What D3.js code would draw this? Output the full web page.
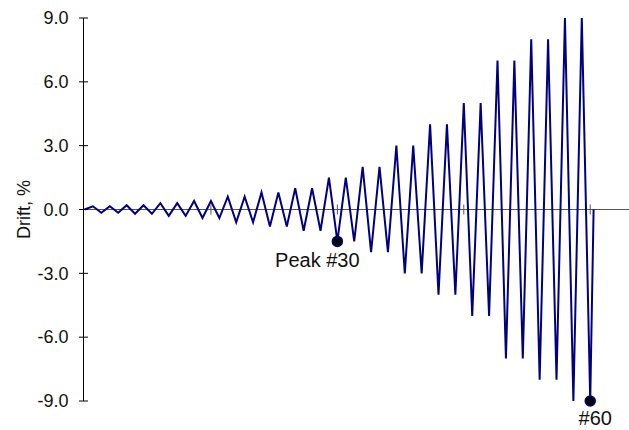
<!DOCTYPE html>
<html>
<head>
<meta charset="utf-8">
<script src="https://cdn.jsdelivr.net/npm/d3@7"></script>
<style>
  html, body { margin: 0; padding: 0; background: #fff; }
  svg { display: block; font-family: "Liberation Sans", Arial, sans-serif; }
</style>
</head>
<body>
<div id="chart_area"></div>
<script>
// drift at each load peak (index = peak number, 0 = start)
const drift = [0,
  0.15, -0.15, 0.15, -0.15,
  0.2, -0.2, 0.2, -0.2,
  0.3, -0.3, 0.3, -0.3,
  0.4, -0.4, 0.4, -0.4,
  0.6, -0.6, 0.6, -0.6,
  0.8, -0.8, 0.8, -0.8,
  1.0, -1.0, 1.0, -1.0,
  1.5, -1.5, 1.5, -1.5,
  2.0, -2.0, 2.0, -2.0,
  3.0, -3.0, 3.0, -3.0,
  4.0, -4.0, 4.0, -4.0,
  5.0, -5.0, 5.0, -5.0,
  7.0, -7.0, 7.0, -7.0,
  8.0, -8.0, 8.0, -8.0,
  9.0, -9.0, 9.0, -9.0];
// line returns to zero just after the last peak
const endStep = 60.4;
const endDrift = 0;
const yTicks = [-9, -6, -3, 0, 3, 6, 9];
const xTicks = [15, 30, 45, 60];
const markedPeaks = [30, 60];
const markLabels = ['Peak #30', '#60'];

const width = 629;
const height = 430;

const svg = d3.select('#chart_area')
  .append('svg')
  .attr('width', width)
  .attr('height', height);

const x = d3.scaleLinear().domain([0, 64.6]).range([84.5, 629]);
const y = d3.scaleLinear().domain([-9, 9]).range([401, 18]);

const points = drift.map((d, i) => [i, d]);
points.push([endStep, endDrift]);

// zero line with small ticks crossing it
svg.append('line')
  .attr('x1', x(0)).attr('x2', x.range()[1])
  .attr('y1', y(0)).attr('y2', y(0))
  .attr('stroke', '#555').attr('stroke-width', 1);
svg.selectAll('.xtick')
  .data(xTicks)
  .enter().append('line')
  .attr('x1', d => x(d)).attr('x2', d => x(d))
  .attr('y1', y(0) - 5).attr('y2', y(0) + 5)
  .attr('stroke', '#555').attr('stroke-width', 1);

// y axis
const yAxis = svg.append('g').attr('transform', 'translate(83.5,0)');
yAxis.append('line')
  .attr('x1', 0).attr('x2', 0)
  .attr('y1', y(9)).attr('y2', y(-9))
  .attr('stroke', '#000');
yAxis.selectAll('.ytick')
  .data(yTicks)
  .enter().append('line')
  .attr('x1', -4.5).attr('x2', 4.5)
  .attr('y1', d => y(d)).attr('y2', d => y(d))
  .attr('stroke', '#000');
yAxis.selectAll('.ylabel')
  .data(yTicks)
  .enter().append('text')
  .attr('x', -15)
  .attr('y', d => y(d))
  .attr('dy', '0.35em')
  .attr('text-anchor', 'end')
  .attr('font-size', 18)
  .attr('fill', '#111')
  .text(d => d.toFixed(1));

svg.append('text')
  .attr('transform', 'translate(30,' + y(0) + ') rotate(-90)')
  .attr('text-anchor', 'middle')
  .attr('font-size', 18)
  .attr('fill', '#111')
  .text('Drift, %');

// drift history
svg.append('path')
  .datum(points)
  .attr('fill', 'none')
  .attr('stroke', '#000080')
  .attr('stroke-width', 2)
  .attr('stroke-linejoin', 'miter')
  .attr('d', d3.line().x(d => x(d[0])).y(d => y(d[1])));

// marked peaks
svg.selectAll('.mark')
  .data(markedPeaks)
  .enter().append('circle')
  .attr('cx', d => x(d))
  .attr('cy', d => y(drift[d]))
  .attr('r', 5)
  .attr('fill', '#000')
  .attr('stroke', '#000080')
  .attr('stroke-width', 1.5);

svg.append('text')
  .attr('x', x(markedPeaks[0]) - 20)
  .attr('y', y(drift[markedPeaks[0]]) + 26)
  .attr('text-anchor', 'middle')
  .attr('font-size', 20)
  .attr('fill', '#111')
  .text(markLabels[0]);
svg.append('text')
  .attr('x', x(markedPeaks[1]) + 5)
  .attr('y', y(drift[markedPeaks[1]]) + 24)
  .attr('text-anchor', 'middle')
  .attr('font-size', 20)
  .attr('fill', '#111')
  .text(markLabels[1]);
</script>
</body>
</html>
